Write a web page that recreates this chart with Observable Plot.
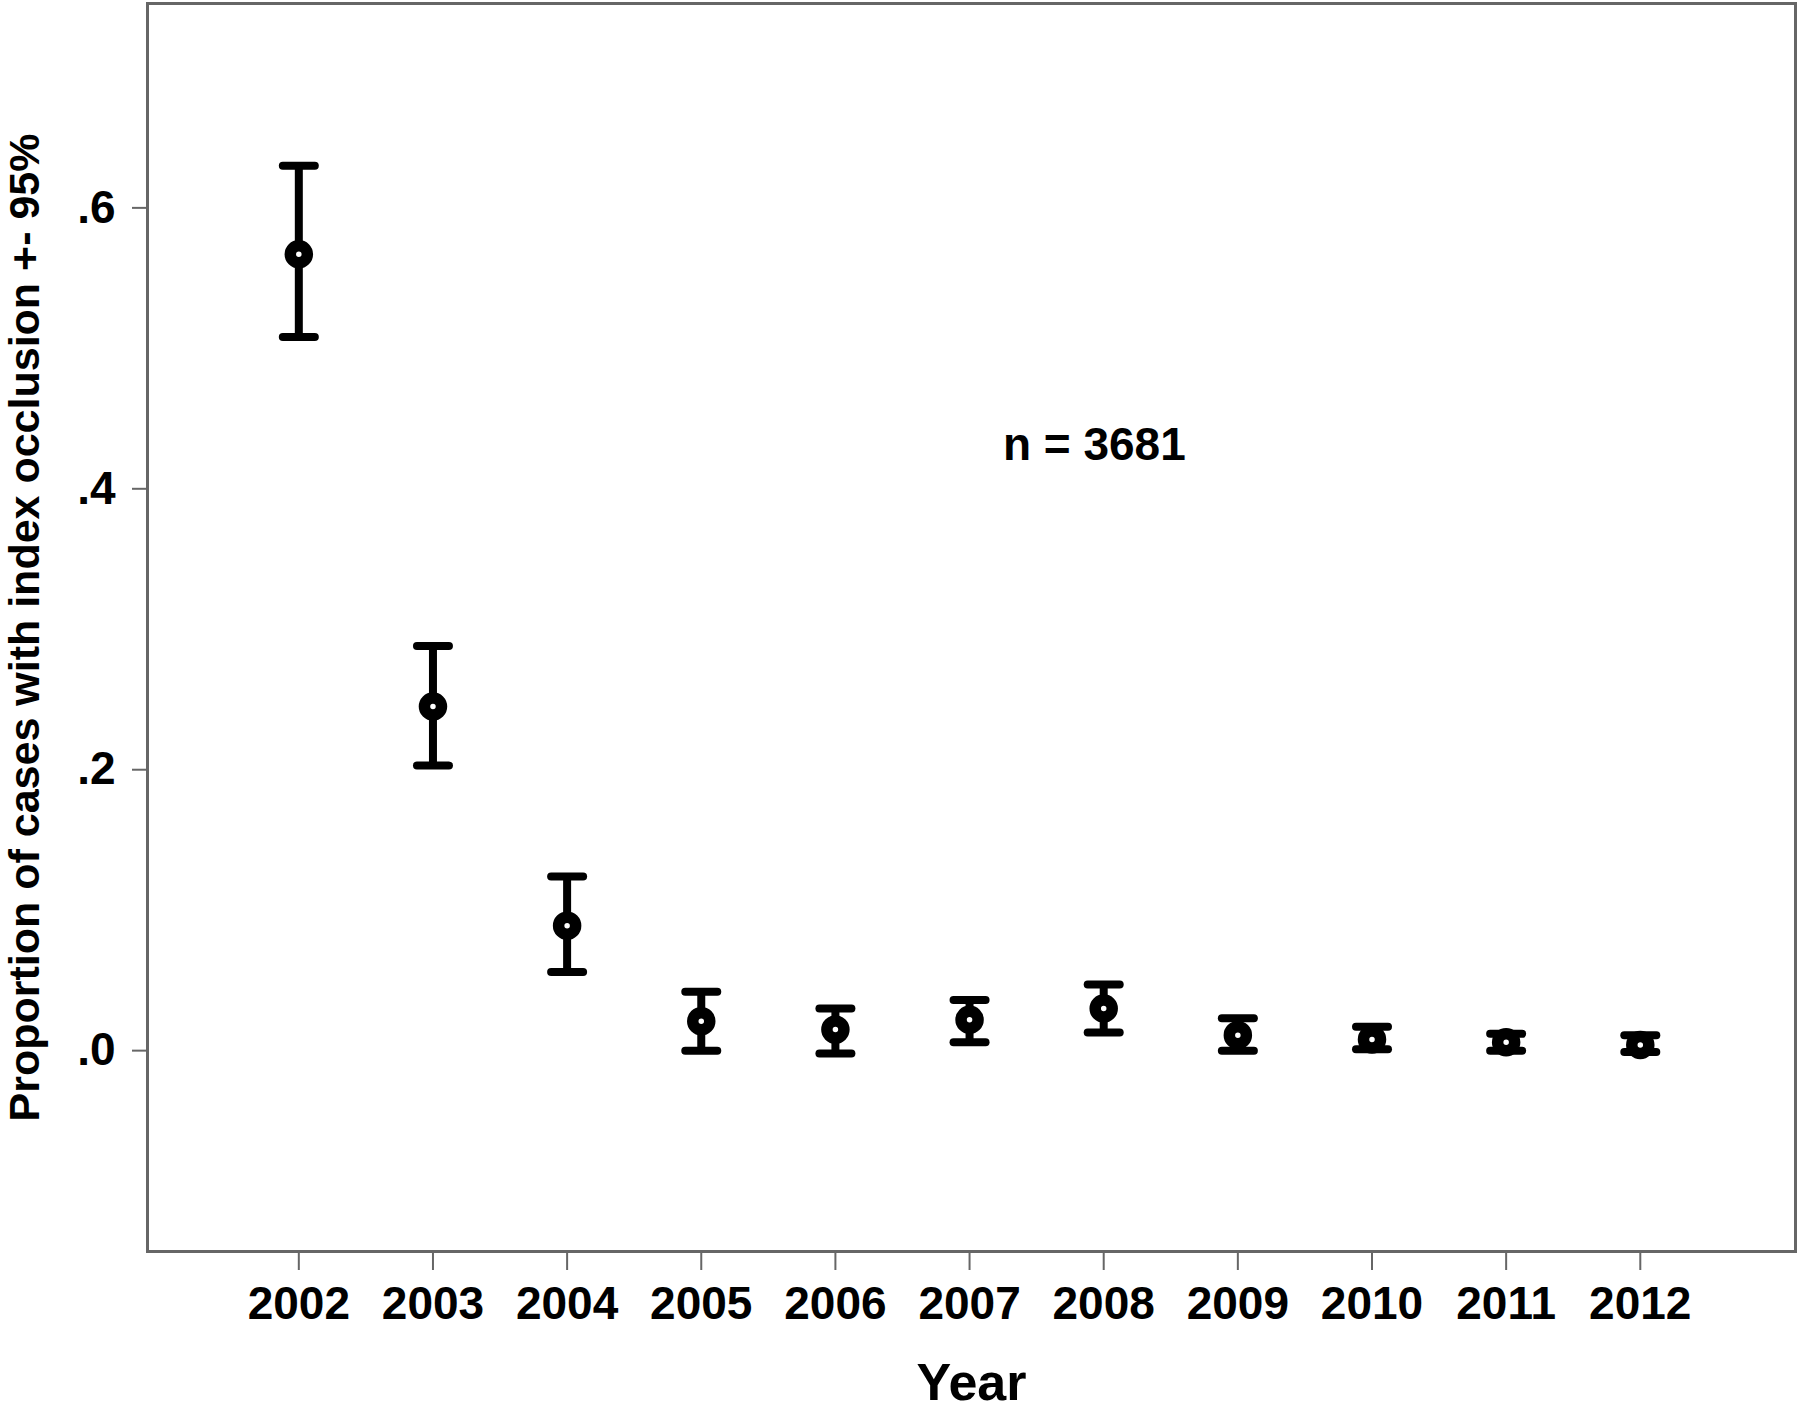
<!DOCTYPE html>
<html>
<head>
<meta charset="utf-8">
<script src="https://cdn.jsdelivr.net/npm/d3@7"></script>
<script src="https://cdn.jsdelivr.net/npm/@observablehq/plot@0.6"></script>
<style>
  html, body { margin: 0; padding: 0; background: #fff; }
  svg { display: block; }
</style>
</head>
<body>
<div id="chart"></div>
<script>
const years = [2002, 2003, 2004, 2005, 2006, 2007, 2008, 2009, 2010, 2011, 2012];
const means = [0.567, 0.245, 0.089, 0.021, 0.015, 0.022, 0.030, 0.011, 0.008, 0.006, 0.004];
const upper = [0.630, 0.288, 0.124, 0.042, 0.030, 0.036, 0.047, 0.023, 0.017, 0.012, 0.011];
const lower = [0.508, 0.203, 0.056, 0.000, -0.002, 0.006, 0.013, 0.000, 0.001, 0.000, -0.001];
const yTicks = [0, 0.2, 0.4, 0.6];
const yLabel = "Proportion of cases with index occlusion +- 95%";
const xLabel = "Year";
const annotation = "n = 3681";
const annotationAt = {x: 2007.93, y: 0.431};

const data = years.map((year, i) => ({year, mean: means[i], upper: upper[i], lower: lower[i]}));
const caps = data.flatMap(d => [{year: d.year, v: d.upper}, {year: d.year, v: d.lower}]);

const capSymbol = {
  draw(context, size) {
    const w = Math.sqrt(size / Math.PI);
    context.moveTo(-w, 0);
    context.lineTo(w, 0);
  }
};

const font = "'Liberation Sans', Arial, sans-serif";

const chart = Plot.plot({
  width: 1800,
  height: 1410,
  marginLeft: 147,
  marginTop: 3,
  marginRight: 5,
  marginBottom: 159,
  style: {fontFamily: font, background: "white", color: "black"},
  x: {domain: [2000.872, 2013.157]},
  y: {domain: [-0.143, 0.7455]},
  marks: [
    Plot.frame({stroke: "#666", strokeWidth: 3}),
    Plot.axisX({
      ticks: years, tickFormat: d => String(d), tickSize: 19, tickPadding: 16,
      fontSize: 46, fontWeight: "bold", stroke: "#666", strokeWidth: 2, fill: "black", label: null
    }),
    Plot.axisY({
      ticks: yTicks, tickFormat: d => d3.format(".1f")(d).replace(/^0/, ""), tickSize: 15, tickPadding: 17,
      fontSize: 46, fontWeight: "bold", stroke: "#666", strokeWidth: 2, fill: "black", label: null
    }),
    Plot.ruleX(data, {x: "year", y1: "lower", y2: "upper", stroke: "black", strokeWidth: 8}),
    Plot.dot(caps, {x: "year", y: "v", symbol: capSymbol, r: 16, fill: "none", stroke: "black", strokeWidth: 8, strokeLinecap: "round"}),
    Plot.dot(data, {x: "year", y: "mean", r: 8.5, fill: "white", stroke: "black", strokeWidth: 11.5}),
    Plot.text([annotation], {x: annotationAt.x, y: annotationAt.y, text: d => d, fontSize: 46, fontWeight: "bold", fill: "black", textAnchor: "middle"}),
    Plot.text([yLabel], {frameAnchor: "left", text: d => d, rotate: -90, dx: -122, fontSize: 43, fontWeight: "bold", fill: "black", textAnchor: "middle"}),
    Plot.text([xLabel], {frameAnchor: "bottom", text: d => d, dy: 148, fontSize: 52, fontWeight: "bold", fill: "black", textAnchor: "middle"})
  ]
});
document.getElementById("chart").appendChild(chart);
</script>
</body>
</html>
